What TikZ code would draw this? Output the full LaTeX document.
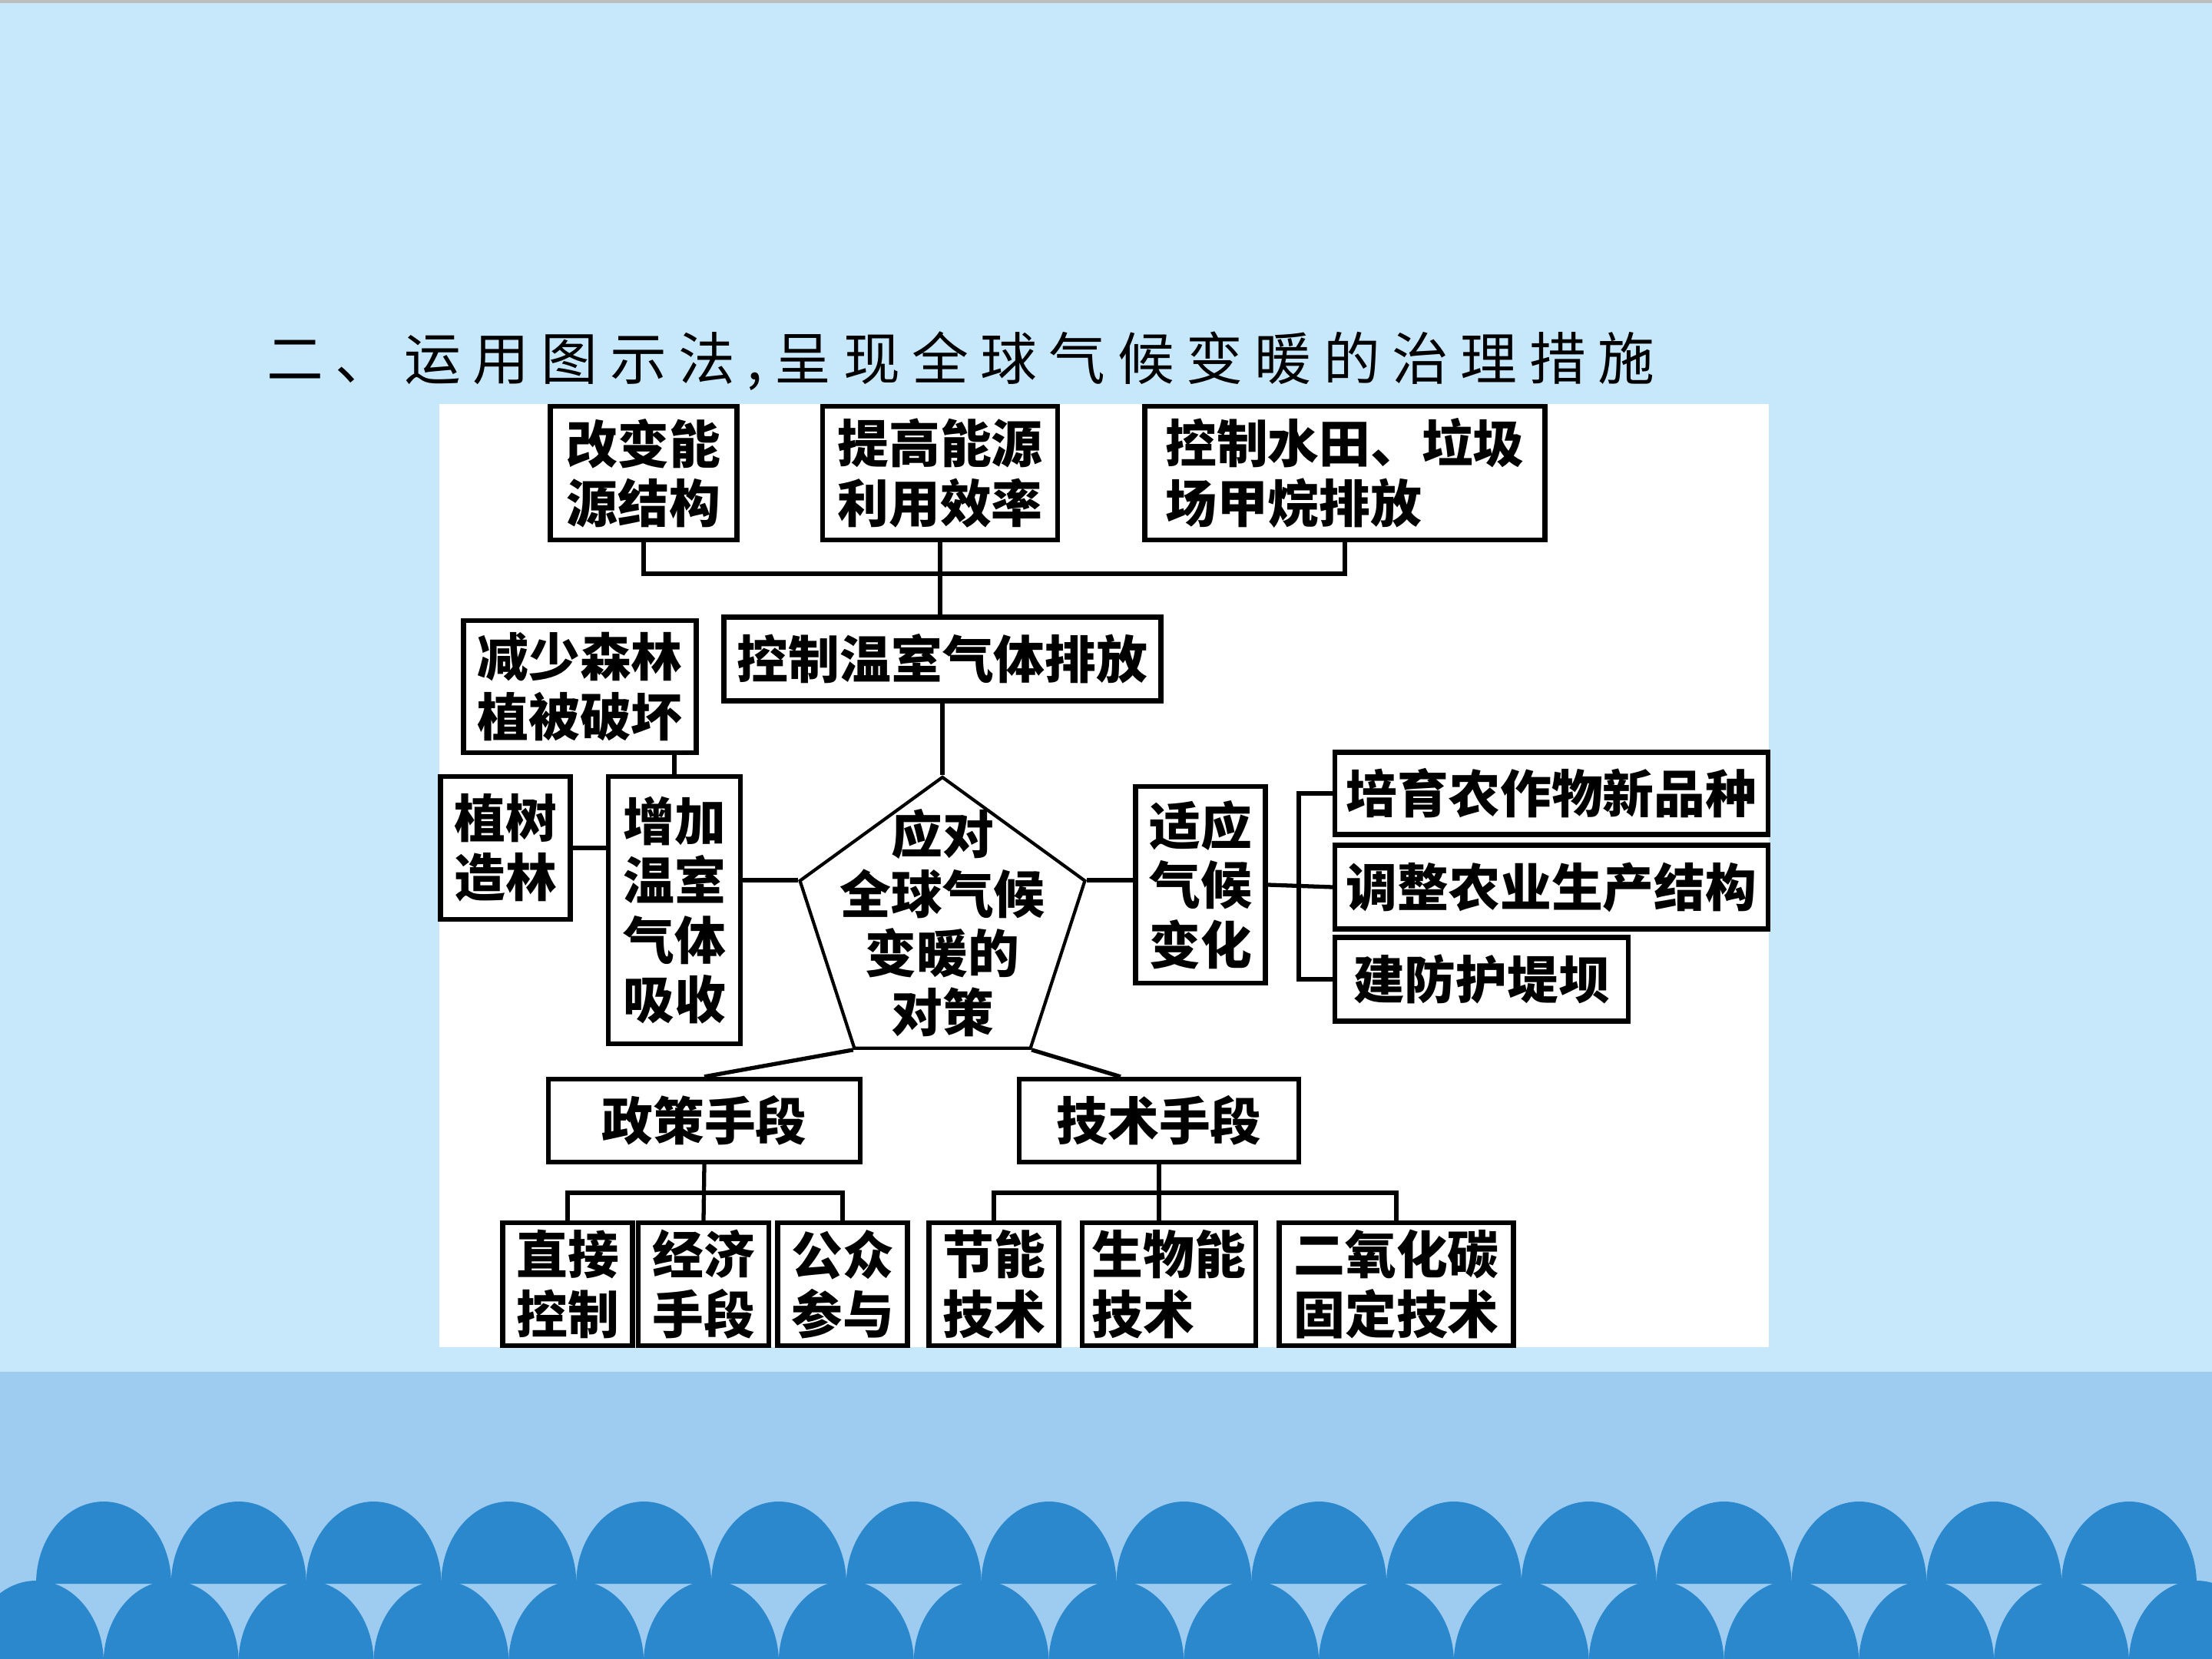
\documentclass[tikz,border=0pt]{standalone}
\usepackage{fontspec}
\newfontfamily\cjk{Noto Sans CJK SC}
\newfontfamily\cjktitle[LetterSpace=21]{Noto Sans CJK SC}
\usetikzlibrary{shapes.geometric, positioning, calc}

\definecolor{skybg}{HTML}{C6E8FA}
\definecolor{bandbg}{HTML}{9ECBF0}
\definecolor{wavebl}{HTML}{2B88CC}
\definecolor{topline}{HTML}{BEBEBE}

\newcommand{\boxfont}{\cjk\bfseries\fontsize{19pt}{22pt}\selectfont}

\tikzset{
  box/.style={draw, line width=1.8pt, fill=white, inner sep=0pt, font=\boxfont, align=center},
  link/.style={line width=1.5pt},
  wave/.style={fill=wavebl},
}

\begin{document}
\begin{tikzpicture}
  \useasboundingbox (0,0) rectangle (28.8,-21.6);
  \clip (0,0) rectangle (28.8,-21.6);
  % 背景
  \fill[skybg] (0,0) rectangle (28.8,-17.86);
  \fill[topline] (0,0) rectangle (28.8,-0.04);
  \fill[bandbg] (0,-17.86) rectangle (28.8,-21.6);
  \foreach \i in {0,...,15}
    \fill[wave] ({0.47+1.758*\i},-20.62) arc[start angle=180, end angle=0, x radius=0.88, y radius=1.07] -- cycle;
  \foreach \i in {0,...,16}
    \fill[wave] ({-0.41+1.758*\i},-21.65) arc[start angle=180, end angle=0, x radius=0.88, y radius=1.07] -- cycle;
  \fill[white] (5.72,-5.26) rectangle (23.03,-17.54);

  % 标题
  \node[font=\cjktitle\fontsize{21pt}{24pt}\selectfont] (title) at (12.51,-4.70) {二、运用图示法,呈现全球气候变暖的治理措施};

  % 控制温室气体排放
  \node[box, minimum width=2.43cm, minimum height=1.74cm] (gaibian) at (8.38,-6.16) {改变能\\源结构};
  \node[box, minimum width=3.06cm, minimum height=1.74cm] (tigao) at (12.24,-6.16) {提高能源\\利用效率};
  \node[box, minimum width=5.21cm, minimum height=1.74cm, align=left] (jiawan) at (17.51,-6.16) {控制水田、垃圾\\场甲烷排放};
  \node[box, minimum width=5.69cm, minimum height=1.09cm] (jianpai) at (12.27,-8.58) {控制温室气体排放};

  % 增加温室气体吸收
  \node[box, minimum width=3.03cm, minimum height=1.72cm] (jianshao) at (7.55,-8.94) {减少森林\\植被破坏};
  \node[box, minimum width=1.69cm, minimum height=1.86cm] (zhishu) at (6.58,-11.04) {植树\\造林};
  \node[box, minimum width=1.72cm, minimum height=3.48cm] (zengjia) at (8.78,-11.85) {增加\\温室\\气体\\吸收};

  % 中心
  \node[draw, line width=1.2pt, fill=white, regular polygon, regular polygon sides=5, minimum size=3.9cm, inner sep=0pt] (core) at (12.27,-12.07) {};
  \node[font=\boxfont, align=center] (coretext) at (12.27,-12.02) {应对\\全球气候\\变暖的\\对策};

  % 适应气候变化
  \node[box, minimum width=1.69cm, minimum height=2.56cm] (shiying) at (15.63,-11.52) {适应\\气候\\变化};
  \node[box, minimum width=5.64cm, minimum height=1.07cm] (peiyu) at (20.20,-10.33) {培育农作物新品种};
  \node[box, minimum width=5.64cm, minimum height=1.09cm] (tiaozheng) at (20.20,-11.55) {调整农业生产结构};
  \node[box, minimum width=3.82cm, minimum height=1.09cm] (jianfang) at (19.29,-12.75) {建防护堤坝};

  % 手段
  \node[box, minimum width=4.06cm, minimum height=1.08cm] (zhengce) at (9.17,-14.59) {政策手段};
  \node[box, minimum width=3.64cm, minimum height=1.08cm] (jishu) at (15.09,-14.59) {技术手段};
  \node[box, minimum width=1.69cm, minimum height=1.60cm] (zhijie) at (7.39,-16.72) {直接\\控制};
  \node[box, minimum width=1.70cm, minimum height=1.60cm] (jingji) at (9.16,-16.72) {经济\\手段};
  \node[box, minimum width=1.69cm, minimum height=1.60cm] (gongzhong) at (10.97,-16.72) {公众\\参与};
  \node[box, minimum width=1.69cm, minimum height=1.60cm] (jieneng) at (12.94,-16.72) {节能\\技术};
  \node[box, minimum width=2.26cm, minimum height=1.60cm, align=left] (shengwu) at (15.22,-16.72) {生物能\\技术};
  \node[box, minimum width=3.05cm, minimum height=1.60cm] (eryang) at (18.18,-16.72) {二氧化碳\\固定技术};

  % 连线
  \coordinate (topbus) at (12.24,-7.47);
  \draw[link] (gaibian.south) |- (topbus) -| (jiawan.south);
  \draw[link] (tigao.south) -- (tigao.south |- jianpai.north);
  \draw[link] (jianpai.south) -- (core.corner 1);
  \draw[link] (zengjia.north) -- (zengjia.north |- jianshao.south);
  \draw[link] (zhishu.east) -- (zhishu.east -| zengjia.west);
  \draw[link] (core.corner 2) -- (core.corner 2 -| zengjia.east);
  \draw[link] (core.corner 5) -- (core.corner 5 -| shiying.west);
  \coordinate (rightbus) at (16.91,-11.53);
  \draw[link] (shiying.east) -- (tiaozheng.west);
  \draw[link] (peiyu.west) -| (rightbus) |- (jianfang.west);
  \draw[link] (core.corner 3) -- (zhengce.north);
  \draw[link] (core.corner 4) -- ([xshift=-0.5cm]jishu.north);
  \coordinate (zcbus) at (9.17,-15.53);
  \draw[link] (zhengce.south) -- (jingji.north);
  \draw[link] (zhijie.north) |- (zcbus) -| (gongzhong.north);
  \coordinate (jsbus) at (15.09,-15.53);
  \draw[link] (jishu.south) -- (jishu.south |- shengwu.north);
  \draw[link] (jieneng.north) |- (jsbus) -| (eryang.north);
\end{tikzpicture}
\end{document}
